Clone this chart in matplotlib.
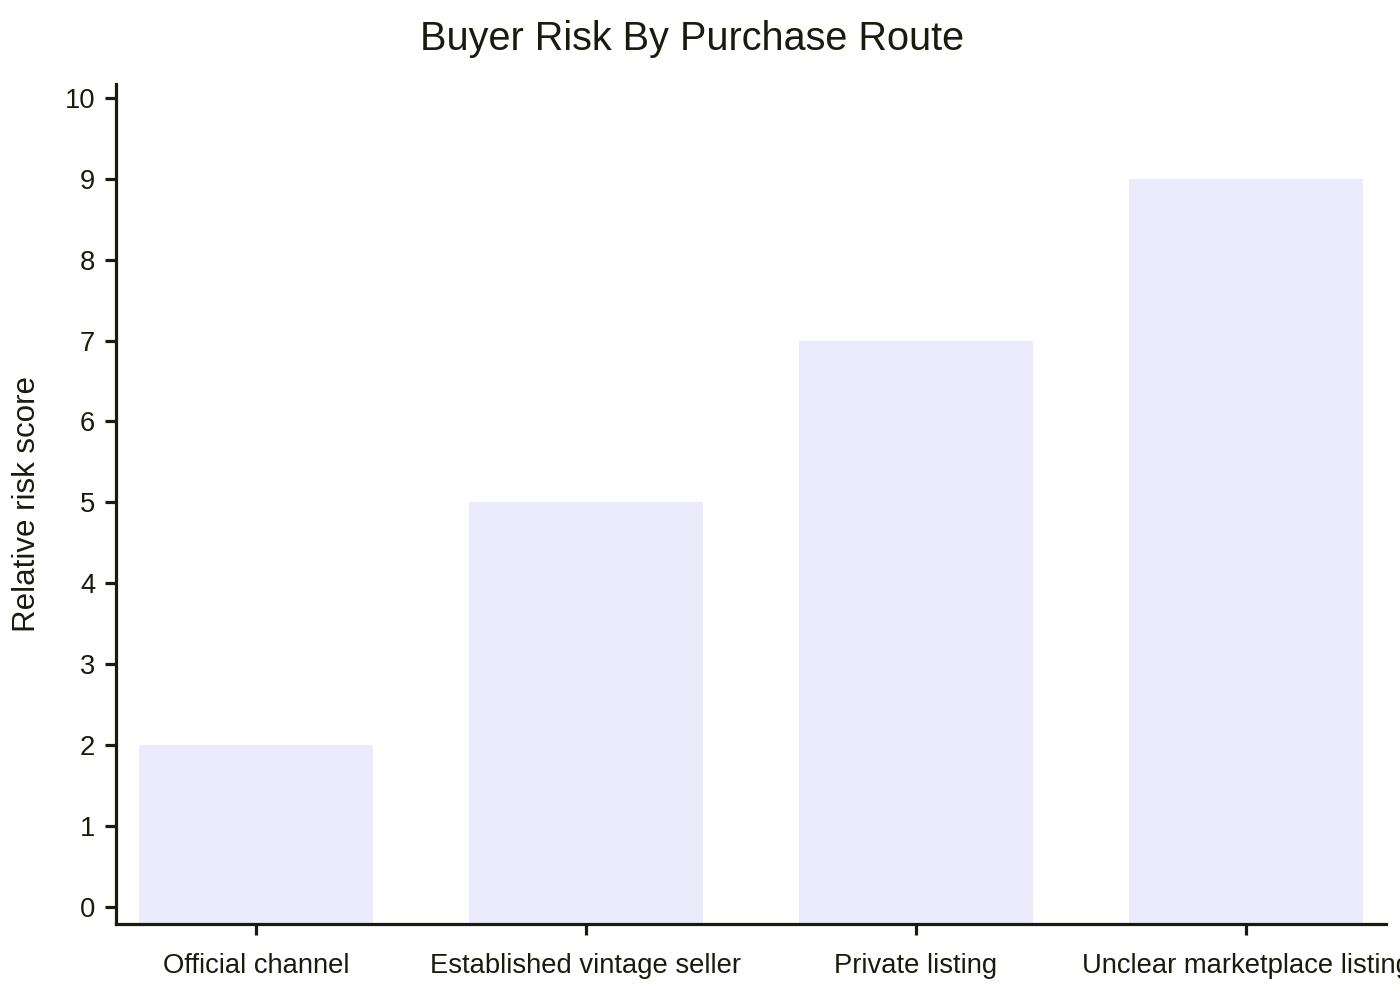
import matplotlib
matplotlib.use("Agg")
import matplotlib.pyplot as plt

categories = ["Official channel", "Established vintage seller", "Private listing", "Unclear marketplace listing"]
risk_scores = [2, 5, 7, 9]
y_ticks = [0, 1, 2, 3, 4, 5, 6, 7, 8, 9, 10]

plt.rcParams['font.family'] = ['Liberation Sans', 'DejaVu Sans']
ink = '#1a1a0e'

fig = plt.figure(figsize=(14, 10), dpi=100)
ax = fig.add_axes([116/1400, 1 - 924/1000, (1386-116)/1400, (924-84)/1000])

y_floor = -0.21
x = list(range(len(categories)))
ax.bar(x, [v - y_floor for v in risk_scores], bottom=y_floor, width=0.71,
       color='#ecebfc', edgecolor='none')

ax.set_xlim(-0.424, len(categories) - 1 + 0.424)
ax.set_ylim(y_floor, 10.17)
ax.set_yticks(y_ticks)
ax.set_xticks(x)
ax.set_xticklabels(categories)

for s in ['top', 'right']:
    ax.spines[s].set_visible(False)
for s in ['left', 'bottom']:
    ax.spines[s].set_color(ink)
    ax.spines[s].set_linewidth(2.3)

ax.tick_params(axis='both', colors=ink, labelcolor=ink, length=8, width=2.3, labelsize=19.7)
ax.tick_params(axis='x', pad=13)
ax.tick_params(axis='y', pad=7)

ax.set_ylabel("Relative risk score", fontsize=22.5, color=ink)
ax.yaxis.set_label_coords(-(116 - 42) / 1270, 0.5)
fig.text(692/1400, 1 - 39/1000, "Buyer Risk By Purchase Route", ha='center', va='center',
         fontsize=28.5, color=ink)

fig.savefig("out.png", dpi=100)
